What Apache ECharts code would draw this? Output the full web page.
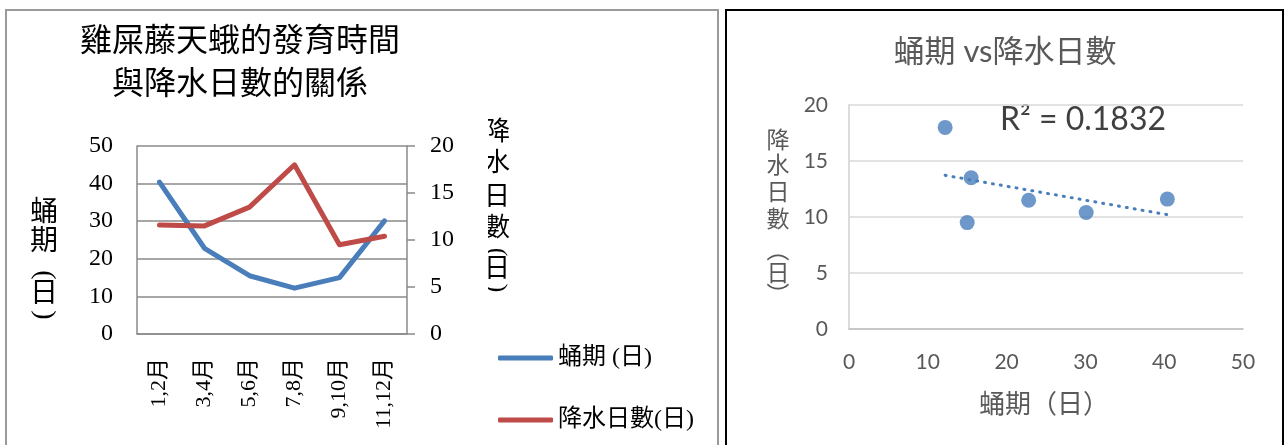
<!DOCTYPE html>
<html>
<head>
<meta charset="utf-8">
<script src="https://cdn.jsdelivr.net/npm/echarts@6/dist/echarts.min.js"></script>
<style>
  html, body { margin: 0; padding: 0; background: #fff; }
  #chart { width: 1285px; height: 445px; }
</style>
</head>
<body>
<div id="chart"></div>
<script>
// Two-month periods
const categories = ['1,2月', '3,4月', '5,6月', '7,8月', '9,10月', '11,12月'];
// Pupal period (days) per period
const pupaDays = [40.4, 22.8, 15.5, 12.2, 15.0, 30.1];
// Rainy days per period
const rainDays = [11.6, 11.5, 13.5, 18.0, 9.5, 10.4];
// Axis tick settings
const pupaTicks = { min: 0, max: 50, interval: 10 };
const rainTicks = { min: 0, max: 20, interval: 5 };
const scatterXTicks = { min: 0, max: 50, interval: 10 };
const scatterYTicks = { min: 0, max: 20, interval: 5 };
const rSquaredText = 'R² = 0.1832';

const SERIF = "'Liberation Serif', 'Noto Sans CJK TC', serif";
const CJK = "'Noto Sans CJK TC', sans-serif";
const SANS = "Lato, 'Noto Sans CJK TC', sans-serif";
const BLUE = '#4a7ebb';
const RED = '#be4b48';
const GRID_GRAY = '#8a8a8a';

// Scatter points: pupal period vs rainy days
const scatterPoints = pupaDays.map((p, i) => [p, rainDays[i]]);

// Least-squares linear trendline across the data range
function trendline(points) {
  const n = points.length;
  const mx = points.reduce((s, p) => s + p[0], 0) / n;
  const my = points.reduce((s, p) => s + p[1], 0) / n;
  let sxy = 0, sxx = 0;
  points.forEach(p => { sxy += (p[0] - mx) * (p[1] - my); sxx += (p[0] - mx) ** 2; });
  const slope = sxy / sxx;
  const icpt = my - slope * mx;
  const xs = points.map(p => p[0]);
  const x0 = Math.min(...xs), x1 = Math.max(...xs);
  return [[x0, icpt + slope * x0], [x1, icpt + slope * x1]];
}

// Vertical (top-to-bottom) text: CJK glyphs upright, brackets turned sideways
function verticalText(x, glyphs, ys, font, size, color) {
  return glyphs.map((ch, i) => {
    const bracket = /[()（）]/.test(ch);
    return {
      type: 'text', x: x, y: ys[i],
      rotation: bracket ? -Math.PI / 2 : 0,
      style: { text: ch, fontFamily: font, fontSize: size, fill: color,
               textAlign: 'center', textVerticalAlign: 'middle' },
      silent: true
    };
  });
}

const chart = echarts.init(document.getElementById('chart'), null, { renderer: 'canvas' });

chart.setOption({
  backgroundColor: '#fff',
  animation: false,
  grid: [
    { left: 137, top: 146, width: 270, height: 188 },
    { left: 849, top: 105, width: 394, height: 224 }
  ],
  legend: {
    data: ['蛹期 (日)', '降水日數(日)'],
    orient: 'vertical',
    left: 493,
    top: 341,
    itemWidth: 55,
    itemHeight: 5,
    itemGap: 38,
    icon: 'roundRect',
    textStyle: { fontFamily: SERIF, fontSize: 24, color: '#000' }
  },
  xAxis: [
    {
      gridIndex: 0,
      type: 'category',
      data: categories,
      boundaryGap: true,
      axisLine: { show: true, lineStyle: { color: GRID_GRAY, width: 1.5 } },
      axisTick: { show: false },
      axisLabel: { rotate: 90, margin: 24, fontFamily: SERIF, fontSize: 22, color: '#000' }
    },
    {
      gridIndex: 1,
      type: 'value',
      min: scatterXTicks.min, max: scatterXTicks.max, interval: scatterXTicks.interval,
      axisLine: { show: true, lineStyle: { color: '#bfbfbf', width: 1.5 } },
      axisTick: { show: false },
      splitLine: { show: false },
      axisLabel: { margin: 23, fontFamily: SANS, fontSize: 21, color: '#595959' }
    }
  ],
  yAxis: [
    {
      gridIndex: 0,
      type: 'value',
      position: 'left',
      min: pupaTicks.min, max: pupaTicks.max, interval: pupaTicks.interval,
      axisLine: { show: true, lineStyle: { color: GRID_GRAY, width: 1.5 } },
      axisTick: { show: false },
      splitLine: { show: true, lineStyle: { color: GRID_GRAY, width: 1.5 } },
      axisLabel: { margin: 24, fontFamily: SERIF, fontSize: 24, color: '#000' }
    },
    {
      gridIndex: 0,
      type: 'value',
      position: 'right',
      min: rainTicks.min, max: rainTicks.max, interval: rainTicks.interval,
      axisLine: { show: true, lineStyle: { color: GRID_GRAY, width: 1.5 } },
      axisTick: { show: true, inside: false, length: 8, lineStyle: { color: GRID_GRAY, width: 1.5 } },
      splitLine: { show: false },
      axisLabel: { margin: 23, fontFamily: SERIF, fontSize: 24, color: '#000' }
    },
    {
      gridIndex: 1,
      type: 'value',
      min: scatterYTicks.min, max: scatterYTicks.max, interval: scatterYTicks.interval,
      axisLine: { show: true, lineStyle: { color: '#d0d0d0', width: 1.5 } },
      axisTick: { show: false },
      splitLine: { show: true, lineStyle: { color: '#d9d9d9', width: 1.5 } },
      axisLabel: { margin: 21, fontFamily: SANS, fontSize: 21, color: '#595959' }
    }
  ],
  series: [
    {
      name: '蛹期 (日)',
      type: 'line',
      xAxisIndex: 0, yAxisIndex: 0,
      data: pupaDays,
      showSymbol: false,
      color: BLUE,
      lineStyle: { width: 5, color: BLUE, cap: 'round', join: 'round' }
    },
    {
      name: '降水日數(日)',
      type: 'line',
      xAxisIndex: 0, yAxisIndex: 1,
      data: rainDays,
      showSymbol: false,
      color: RED,
      lineStyle: { width: 5, color: RED, cap: 'round', join: 'round' }
    },
    {
      name: '蛹期vs降水日數',
      type: 'scatter',
      xAxisIndex: 1, yAxisIndex: 2,
      data: scatterPoints,
      symbolSize: 15,
      itemStyle: { color: '#4a7ebb' },
      z: 3
    },
    {
      name: '趨勢線',
      type: 'line',
      xAxisIndex: 1, yAxisIndex: 2,
      data: trendline(scatterPoints),
      showSymbol: false,
      lineStyle: { width: 3, color: '#4a7ebb', type: [1, 7], cap: 'round' },
      z: 2
    }
  ],
  graphic: [
    // Panel frames
    { type: 'rect', shape: { x: 6, y: 10, width: 712, height: 480 },
      style: { fill: 'none', stroke: '#9a9a9a', lineWidth: 2 }, silent: true },
    { type: 'rect', shape: { x: 726, y: 10, width: 557, height: 480 },
      style: { fill: 'none', stroke: '#000', lineWidth: 2 }, silent: true },
    // Left chart title
    { type: 'text', x: 240, y: 39,
      style: { text: '雞屎藤天蛾的發育時間', fontFamily: CJK, fontSize: 32, fill: '#000',
               textAlign: 'center', textVerticalAlign: 'middle' } },
    { type: 'text', x: 240, y: 82,
      style: { text: '與降水日數的關係', fontFamily: CJK, fontSize: 32, fill: '#000',
               textAlign: 'center', textVerticalAlign: 'middle' } },
    // Left axis name
    ...verticalText(44, ['蛹', '期', '(', '日', ')'], [214, 243, 275, 295, 315], SERIF, 28, '#000'),
    // Right axis name
    ...verticalText(497, ['降', '水', '日', '數', '(', '日', ')'], [133, 164, 198, 229, 252, 270, 288], SERIF, 26, '#000'),
    // Left margin of the right axis name falls outside the chart area
    { type: 'rect', shape: { x: 470, y: 105, width: 18, height: 200 },
      style: { fill: '#fff' }, z: 100, silent: true },
    // Scatter chart title
    { type: 'text', x: 1005, y: 52,
      style: { text: '蛹期 vs降水日數', fontFamily: SANS, fontSize: 31, fill: '#595959',
               textAlign: 'center', textVerticalAlign: 'middle' } },
    // R squared label
    { type: 'text', x: 1000, y: 120,
      style: { text: rSquaredText, fontFamily: SANS, fontSize: 32, fill: '#404040',
               textAlign: 'left', textVerticalAlign: 'middle' } },
    // Scatter axis names
    ...verticalText(778, ['降', '水', '日', '數', '（', '日', '）'], [139, 164, 191, 218, 250, 272, 294], CJK, 23, '#595959'),
    { type: 'text', x: 1044, y: 403,
      style: { text: '蛹期（日）', fontFamily: CJK, fontSize: 26, fill: '#595959',
               textAlign: 'center', textVerticalAlign: 'middle' } }
  ]
});
</script>
</body>
</html>
